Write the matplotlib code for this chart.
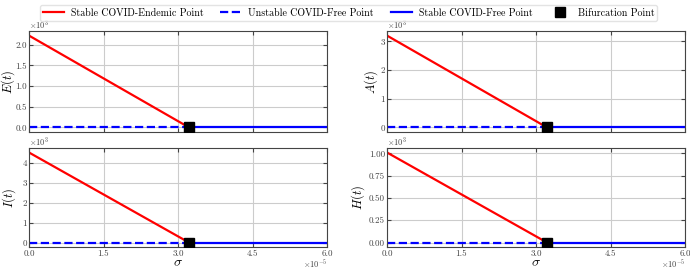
import numpy as np
import matplotlib
matplotlib.use("Agg")
import matplotlib.pyplot as plt

plt.rcParams['font.family'] = 'serif'
plt.rcParams['font.serif'] = ['cmr10', 'DejaVu Serif']
plt.rcParams['mathtext.fontset'] = 'cm'
plt.rcParams['axes.formatter.use_mathtext'] = True
plt.rcParams['axes.unicode_minus'] = False

# bifurcation parameter (sigma)
sigma_endemic = [0.0, 3.22e-5]
sigma_stable = [3.22e-5, 6.0e-5]
sigma_bif = 3.22e-5

# endemic equilibrium values at sigma = 0 and at bifurcation
E_end = [2220.0, 0.0]
A_end = [3200.0, 0.0]
I_end = [4500.0, 0.0]
H_end = [1010.0, 0.0]

labels = ['$E(t)$', '$A(t)$', '$I(t)$', '$H(t)$']
endemic = [E_end, A_end, I_end, H_end]
yticks = [[0, 500, 1000, 1500, 2000],
          [0, 1000, 2000, 3000],
          [0, 1000, 2000, 3000, 4000],
          [0, 250, 500, 750, 1000]]
ytick_fmt = ['%.1f', '%d', '%d', '%.2f']
xticks = [0, 1.5e-5, 3.0e-5, 4.5e-5, 6.0e-5]

fig = plt.figure(figsize=(6.9, 2.7), dpi=100)
W, H = 690.0, 270.0
boxes = [(29, 31, 327, 132), (387, 31, 685, 132),
         (29, 148, 327, 247), (387, 148, 685, 247)]
ylab_x = [-0.041, -0.022, -0.038, -0.067]

tc = '#444444'
for i, (x0, y0, x1, y1) in enumerate(boxes):
    ax = fig.add_axes([x0 / W, 1 - y1 / H, (x1 - x0) / W, (y1 - y0) / H])
    l1, = ax.plot(sigma_endemic, endemic[i], color='red', lw=1.6,
                  label='Stable COVID-Endemic Point')
    l2, = ax.plot(sigma_endemic, [0, 0], color='blue', lw=1.6, ls='--',
                  label='Unstable COVID-Free Point')
    l3, = ax.plot(sigma_stable, [0, 0], color='blue', lw=1.6,
                  label='Stable COVID-Free Point')
    l4, = ax.plot([sigma_bif], [0], 's', color='black', ms=7, ls='none',
                  label='Bifurcation Point', zorder=5)
    ax.set_xlim(0, 6e-5)
    ax.margins(y=0.05)
    ax.set_xticks(xticks)
    ax.set_yticks(yticks[i])
    ax.set_yticklabels([ytick_fmt[i] % (v / 1000) for v in yticks[i]],
                       fontsize=6.5, color=tc)
    ax.text(0.0, 1.0, r'$\times10^{3}$', transform=ax.transAxes,
            fontsize=6, color=tc, va='bottom', ha='left')
    ax.grid(True, color='#cccccc', lw=0.8)
    ax.tick_params(direction='in', top=True, right=True, length=3,
                   colors=tc, pad=2)
    ax.tick_params(axis='y', pad=1.5)
    for s in ax.spines.values():
        s.set_color(tc)
    ax.set_ylabel(labels[i], fontsize=9)
    ax.yaxis.set_label_coords(ylab_x[i], 0.5)
    if i < 2:
        ax.set_xticklabels([])
    else:
        ax.set_xticklabels(['%.1f' % (v * 1e5) for v in xticks],
                           fontsize=6.5, color=tc)
        ax.text(1.0, -0.11, r'$\times10^{-5}$', transform=ax.transAxes,
                fontsize=6, color=tc, va='top', ha='right')
        ax.set_xlabel(r'$\sigma$', fontsize=10)
        ax.xaxis.set_label_coords(0.5, -0.1)

fig.legend(handles=[l1, l2, l3, l4], loc='upper center',
           bbox_to_anchor=(0.505, 1.0), ncol=4, fontsize=7.2, frameon=True,
           columnspacing=1.7, handlelength=2.1, handletextpad=0.7,
           borderpad=0.3, edgecolor='#dddddd', fancybox=True)

fig.savefig('out.png', dpi=100)
